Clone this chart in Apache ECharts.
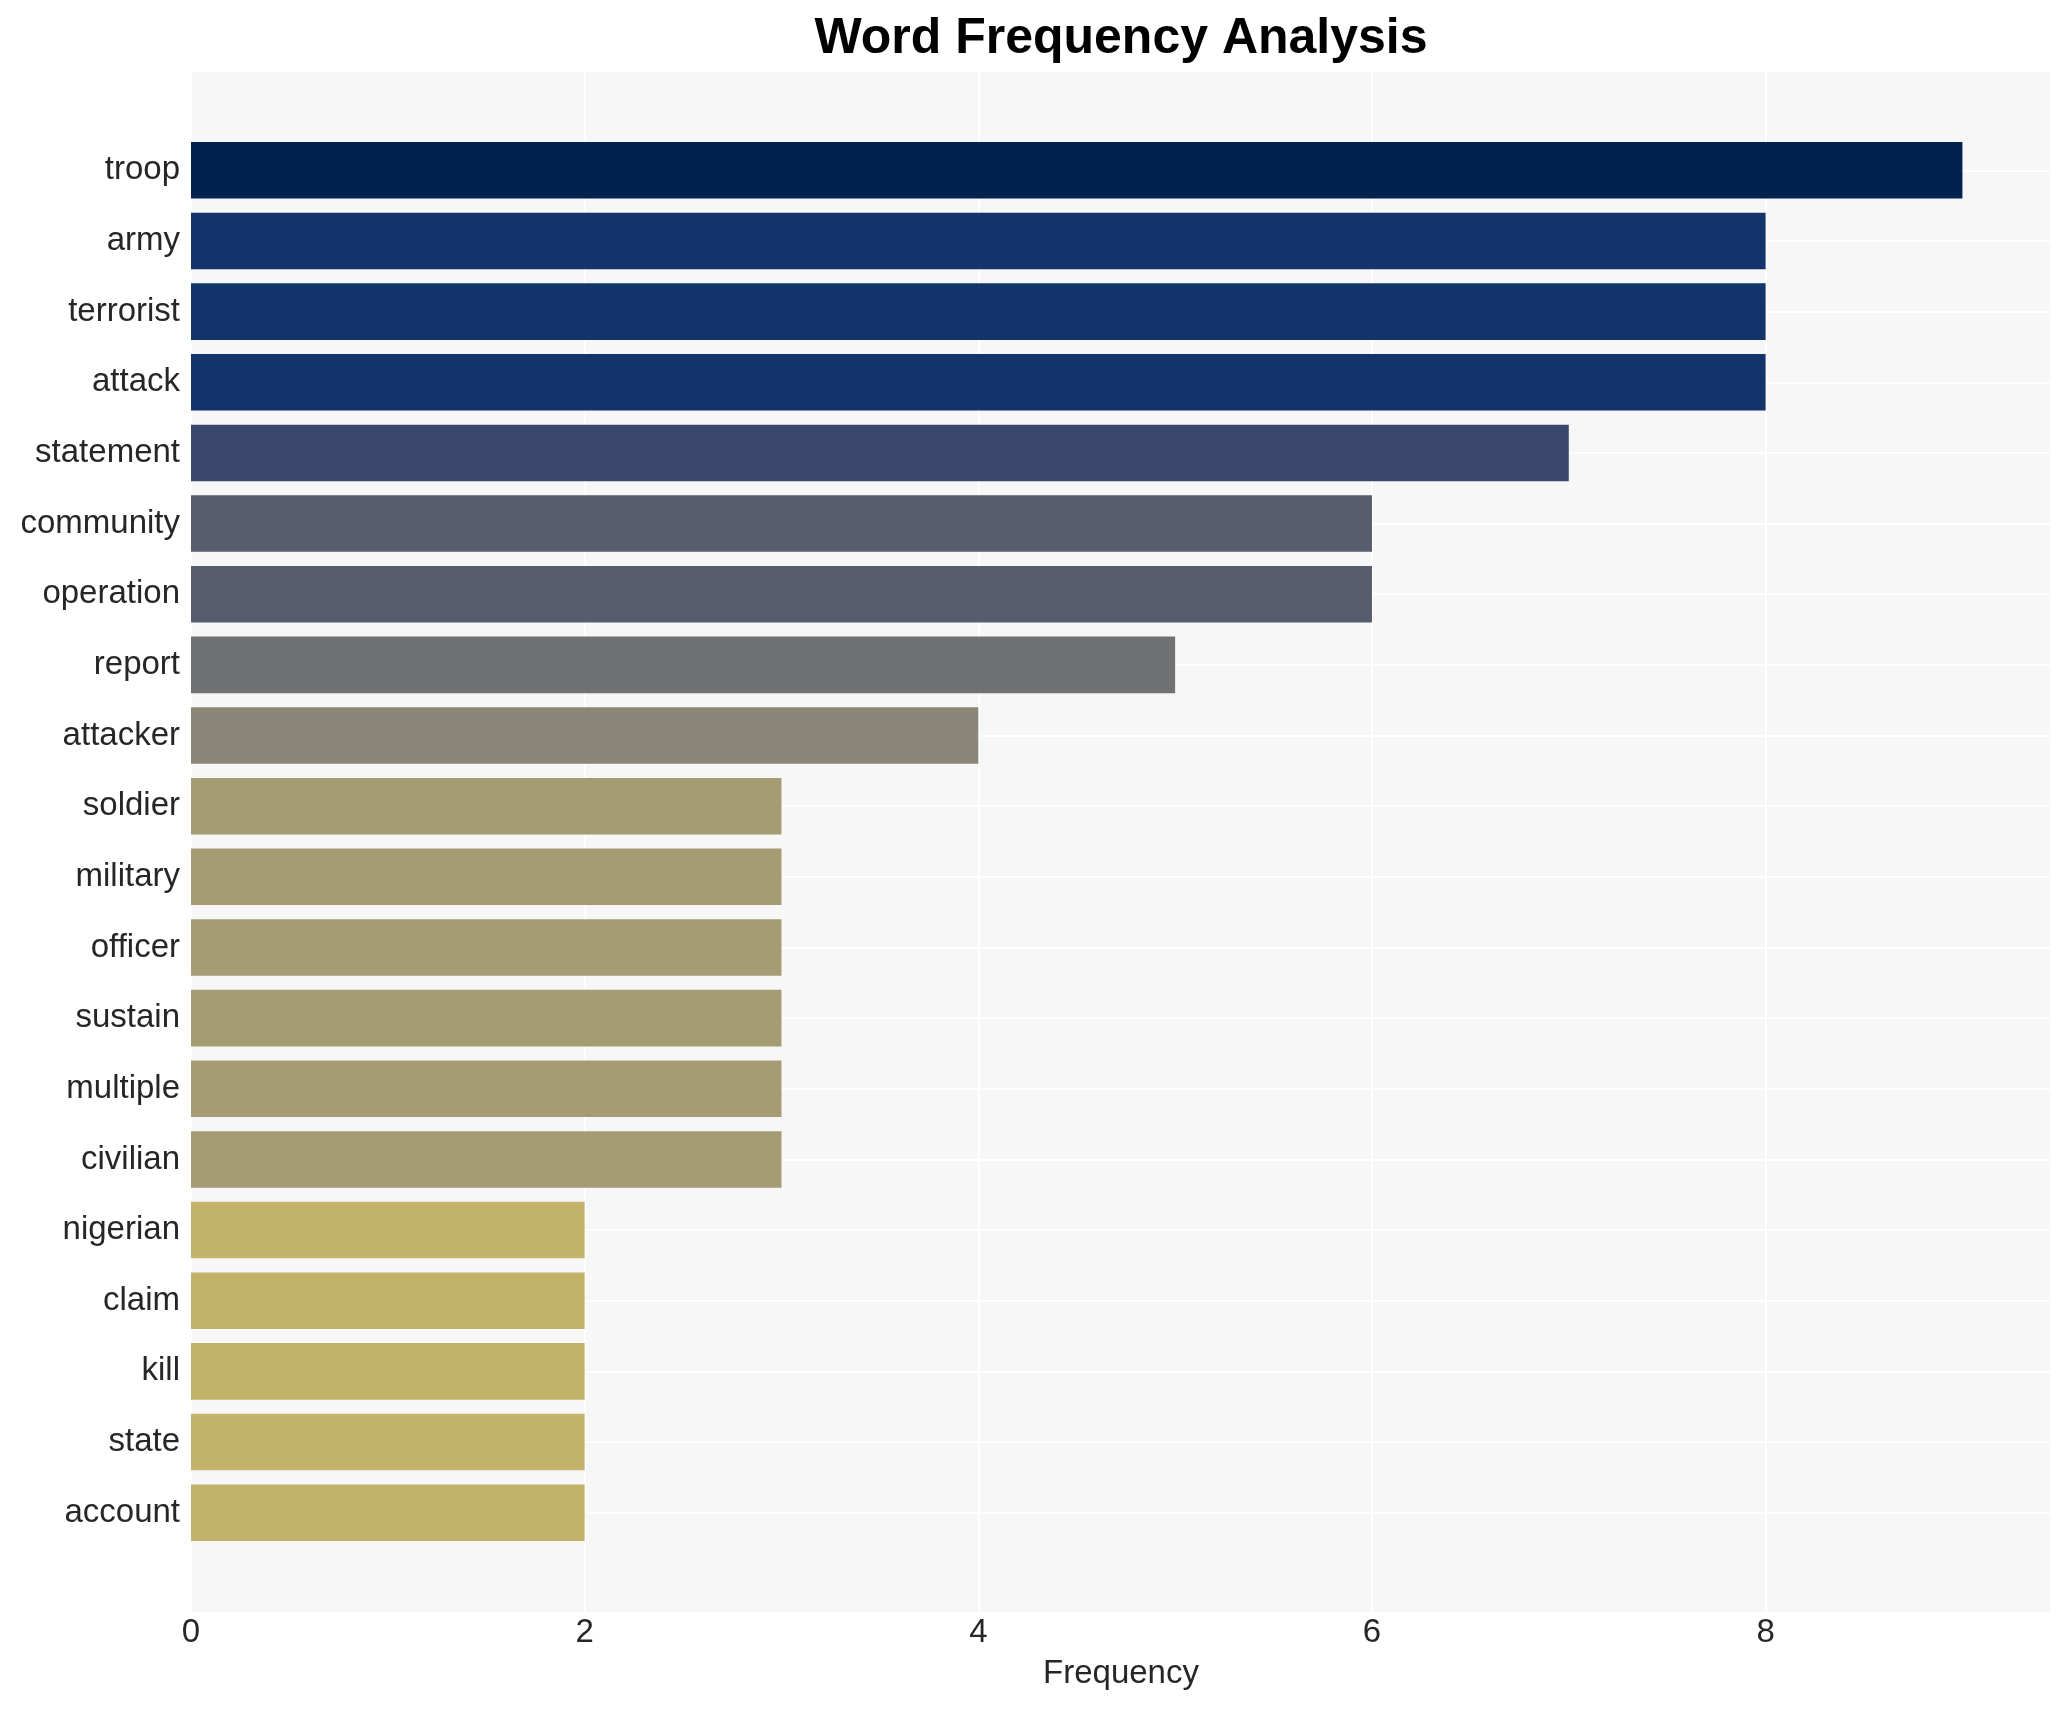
<!DOCTYPE html>
<html>
<head>
<meta charset="utf-8">
<script src="https://cdn.jsdelivr.net/npm/echarts@6/dist/echarts.min.js"></script>
<style>
html,body{margin:0;padding:0;background:#ffffff;}
#chart{width:2070px;height:1710px;}
</style>
</head>
<body>
<div id="chart"></div>
<script>
const words = ['troop','army','terrorist','attack','statement','community','operation','report','attacker','soldier','military','officer','sustain','multiple','civilian','nigerian','claim','kill','state','account'];
const counts = [9,8,8,8,7,6,6,5,4,3,3,3,3,3,3,2,2,2,2,2];
const colorByCount = {9:'#00224e',8:'#13336b',7:'#3a496b',6:'#575d6d',5:'#707173',4:'#8a8678',3:'#a59c74',2:'#c3b36a'};
const xTicks = [0,2,4,6,8];
const xMax = 9.45;

const chart = echarts.init(document.getElementById('chart'), null, {renderer:'canvas'});
const font = 'Liberation Sans, Arial, sans-serif';

chart.setOption({
  animation:false,
  backgroundColor:'#ffffff',
  graphic:[{
    type:'text', x:1121, y:14, z:10,
    style:{text:'Word Frequency Analysis', font:'bold 50px ' + font, fill:'#000000', textAlign:'center', textVerticalAlign:'top'}
  }],
  grid:[
    {left:191, top:72, width:1860, height:1540, show:true, backgroundColor:'#f7f7f7', borderWidth:0, containLabel:false},
    {left:191, top:135, width:1860, height:1413, show:false, containLabel:false}
  ],
  xAxis:[
    {gridIndex:0, type:'value', min:0, max:xMax, interval:2,
     axisLine:{show:false}, axisTick:{show:false},
     splitLine:{show:true, lineStyle:{color:'#ffffff', width:2}},
     axisLabel:{show:true, margin:4, fontSize:33, fontFamily:font, color:'#262626',
       showMaxLabel:false,
       formatter:function(v){return xTicks.indexOf(v) >= 0 ? String(v) : '';}},
     name:'Frequency', nameLocation:'middle', nameGap:45,
     nameTextStyle:{fontSize:33, fontFamily:font, color:'#262626'}},
    {gridIndex:1, type:'value', min:0, max:xMax, interval:2, show:false,
     splitLine:{show:false}}
  ],
  yAxis:[
    {gridIndex:0, type:'value', min:0, max:1, show:false, splitLine:{show:false}},
    {gridIndex:1, type:'category', data:words, inverse:true,
     axisLine:{show:false}, axisTick:{show:false}, splitLine:{show:false},
     axisLabel:{margin:11, fontSize:33, fontFamily:font, color:'#262626', padding:[10,0,0,0]}}
  ],
  series:[
    {type:'line', xAxisIndex:1, yAxisIndex:1, data:[], z:1, silent:true,
     markLine:{silent:true, z:1, symbol:['none','none'], label:{show:false},
       lineStyle:{color:'#ffffff', width:2, type:'solid'},
       emphasis:{disabled:true},
       data:words.map(w => ({yAxis:w}))}},
    {type:'bar', xAxisIndex:1, yAxisIndex:1, z:3, barWidth:'80%',
     data:counts.map(c => ({value:c, itemStyle:{color:colorByCount[c]}}))}
  ]
});
</script>
</body>
</html>
